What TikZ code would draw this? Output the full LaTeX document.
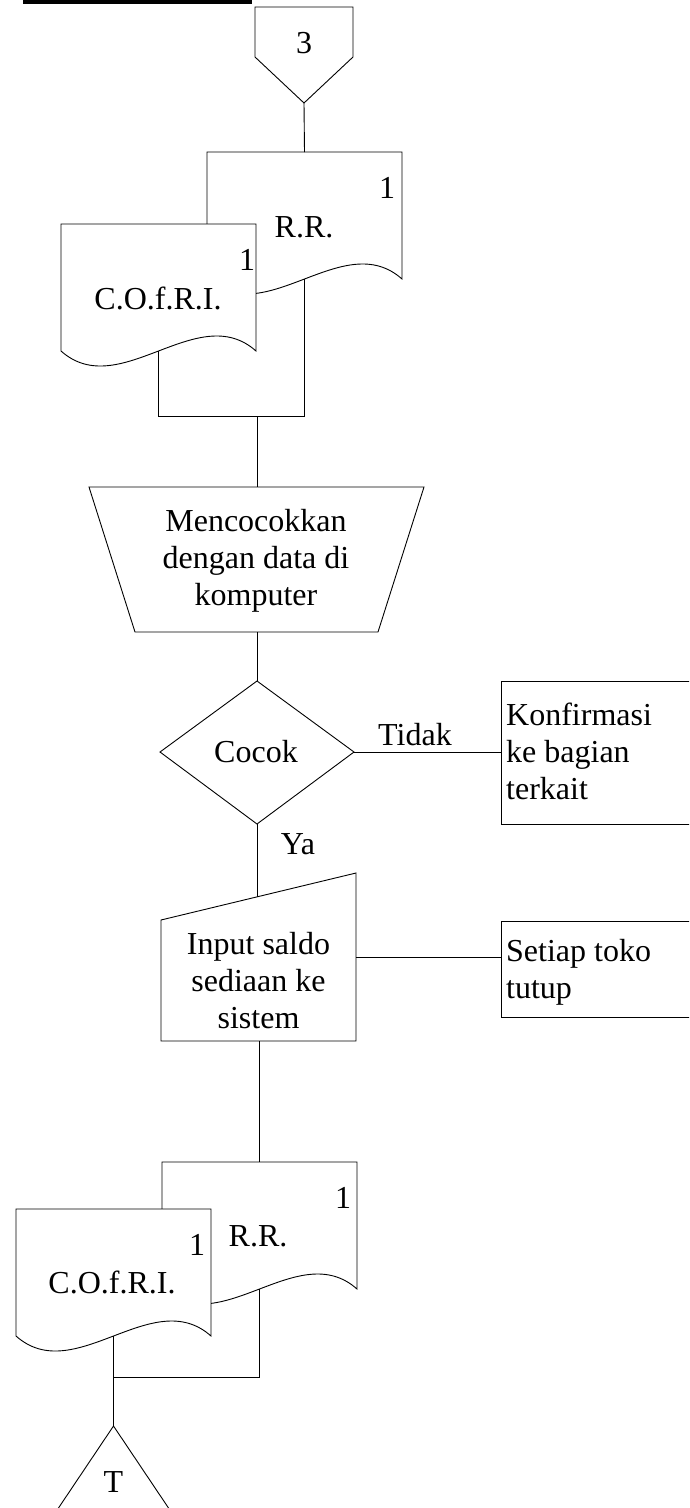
\documentclass[tikz,border=0pt]{standalone}
\usepackage{fontspec}
\setmainfont{Liberation Serif}
\begin{document}
\begin{tikzpicture}[x=1pt,y=-1pt,
  every node/.style={inner sep=0pt, font=\fontsize{32}{37}\selectfont},
  shapeline/.style={draw=black, line width=0.9pt},
  paper/.style={shapeline, fill=white},
  link/.style={draw=black, line width=0.9pt},
  lbl/.style={anchor=base},
  lblleft/.style={anchor=base west, align=left},
  lblmid/.style={anchor=base, align=center},
  docpage/.pic={
    \path[paper] (0,0) -- (195,0) -- (195,127)
      .. controls (136.5,75) and (58.5,179) .. (0,127) -- cycle;
  }]
\useasboundingbox (0,0) rectangle (689,1508);
\clip (0,0) rectangle (689,1508);

% heading rule
\fill (23,0) rectangle (252,3.5);

% off-page connector
\path[shapeline] (255,7) -- (353,7) -- (353,57) -- (304,103) -- (255,57) -- cycle;
\node[lbl] (pg3) at (304,53) {3};
\coordinate (pg3tip) at (304,103);

% first document pair
\pic at (207,152) {docpage};
\node[lbl] (rr1num) at (387,198) {1};
\node[lbl] (rr1txt) at (304,237) {R.R.};
\pic at (61,224) {docpage};
\node[lbl] (cof1num) at (247,270) {1};
\node[lbl] (cof1txt) at (158,309) {C.O.f.R.I.};
\coordinate (rr1top) at (304.5,152);
\coordinate (rr1foot) at (304.5,279);
\coordinate (cof1foot) at (158.5,351);
\coordinate (join1) at (257,416);

% manual operation (multi-line nodes sit on the baseline of their last line)
\path[shapeline] (89,487) -- (424,487) -- (378,632) -- (135,632) -- cycle;
\node[lblmid] (match) at (256,605) {Mencocokkan\\dengan data di\\komputer};
\coordinate (mtop) at (257,487);
\coordinate (mbot) at (257,632);

% decision
\path[shapeline] (160,752) -- (257,681) -- (354,752) -- (257,824) -- cycle;
\node[lbl] (cocok) at (256,762) {Cocok};
\coordinate (dtop) at (257,681);
\coordinate (dright) at (354,752);
\coordinate (dbot) at (257,824);

% confirmation note
\path[shapeline] (501,681) rectangle (692,824);
\node[lblleft] (konf) at (506,799) {Konfirmasi\\ke bagian\\terkait};
\coordinate (kleft) at (501,752);
\node[lbl] (tidak) at (415,745) {Tidak};
\node[lbl] (ya) at (298,854) {Ya};

% manual input
\path[shapeline] (161,920) -- (356,873) -- (356,1041) -- (161,1041) -- cycle;
\node[lblmid] (input) at (258.5,1028) {Input saldo\\sediaan ke\\sistem};
\coordinate (intop) at (257,896.6);
\coordinate (inright) at (356,957);
\coordinate (inbot) at (259,1041);

% closing note
\path[shapeline] (501,921) rectangle (692,1017);
\node[lblleft] (tutup) at (506,998) {Setiap toko\\tutup};
\coordinate (sleft) at (501,957);

% second document pair
\pic at (162,1162) {docpage};
\node[lbl] (rr2num) at (343,1208) {1};
\node[lbl] (rr2txt) at (258,1246) {R.R.};
\pic at (16,1209) {docpage};
\node[lbl] (cof2num) at (197,1255) {1};
\node[lbl] (cof2txt) at (112,1293) {C.O.f.R.I.};
\coordinate (rr2top) at (259,1162);
\coordinate (rr2foot) at (259.5,1289);
\coordinate (cof2foot) at (113.5,1336);
\coordinate (join2) at (113.5,1377);

% terminal file
\path[shapeline] (113.5,1426) -- (190,1540) -- (37,1540) -- cycle;
\node[lbl] (tfile) at (113.5,1492) {T};
\coordinate (tapex) at (113.5,1426);

% connectors
\draw[link] (pg3tip) -- (rr1top);
\draw[link] (rr1foot) -- (rr1foot |- join1) -- (cof1foot |- join1) -- (cof1foot);
\draw[link] (join1) -- (mtop);
\draw[link] (mbot) -- (dtop);
\draw[link] (dright) -- (kleft);
\draw[link] (dbot) -- (intop);
\draw[link] (inright) -- (sleft);
\draw[link] (inbot) -- (rr2top);
\draw[link] (rr2foot) -- (rr2foot |- join2) -- (join2);
\draw[link] (cof2foot) -- (tapex);
\end{tikzpicture}
\end{document}
